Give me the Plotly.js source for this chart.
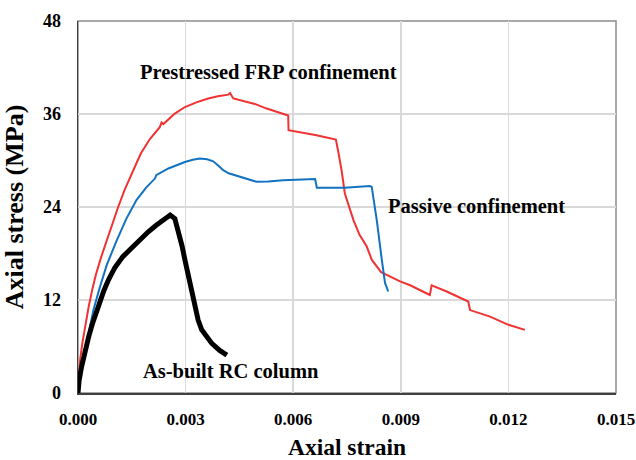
<!DOCTYPE html>
<html>
<head>
<meta charset="utf-8">
<script src="https://cdn.plot.ly/plotly-3.0.1.min.js"></script>
<style>html,body{margin:0;padding:0;background:#fff;}</style>
</head>
<body>
<div id="chart" style="width:636px;height:460px;"></div>
<script>
// Prestressed FRP confinement (red)
const frpStrain = [0, 0.00003, 0.00006, 0.00012, 0.00018, 0.00024, 0.0003, 0.0004, 0.0005, 0.00065, 0.0008, 0.00095, 0.00112, 0.0013, 0.00154, 0.00175, 0.00201, 0.00228, 0.00233, 0.00238, 0.0027, 0.00298, 0.0033, 0.00363, 0.0039, 0.00419, 0.00424, 0.00433, 0.00493, 0.00526, 0.00586, 0.00587, 0.00665, 0.00719, 0.00727, 0.00735, 0.00744, 0.00768, 0.00785, 0.00805, 0.00819, 0.00845, 0.00898, 0.00926, 0.00981, 0.00986, 0.01028, 0.01088, 0.01093, 0.01149, 0.012, 0.01246];
const frpStress = [0, 2.3, 4.3, 6.4, 8.1, 9.6, 11.2, 13.4, 15.3, 17.6, 19.7, 21.9, 24.0, 26.2, 28.8, 30.9, 32.8, 34.3, 34.9, 34.7, 36.05, 36.9, 37.5, 38.0, 38.3, 38.5, 38.7, 38.0, 37.3, 36.7, 35.8, 33.9, 33.25, 32.7, 30.8, 28.7, 25.75, 22.3, 20.4, 18.9, 17.2, 15.6, 14.4, 13.9, 12.65, 13.9, 13.1, 11.8, 10.7, 9.86, 8.8, 8.15];

// Passive confinement (blue)
const passStrain = [0, 0.0001, 0.0002, 0.0003, 0.00043, 0.0006, 0.0008, 0.00108, 0.00135, 0.00163, 0.0019, 0.00215, 0.00218, 0.00252, 0.00275, 0.00298, 0.0032, 0.0034, 0.0036, 0.00377, 0.0039, 0.00405, 0.0042, 0.00438, 0.0047, 0.00498, 0.0053, 0.00572, 0.00661, 0.00666, 0.00743, 0.00814, 0.00819, 0.00833, 0.00847, 0.00856, 0.00865];
const passStress = [0, 3.2, 5.6, 7.9, 10.7, 13.5, 16.5, 19.7, 22.5, 24.9, 26.5, 27.7, 28.1, 28.97, 29.4, 29.8, 30.1, 30.25, 30.15, 29.9, 29.4, 28.75, 28.35, 28.1, 27.6, 27.25, 27.3, 27.46, 27.6, 26.5, 26.5, 26.7, 26.6, 22.3, 17.2, 14.2, 13.1];

// As-built RC column (black)
const rcStrain = [0, 0.00003, 0.0001, 0.0002, 0.0003, 0.0004, 0.0005, 0.0006, 0.00072, 0.00085, 0.00103, 0.00125, 0.0015, 0.00175, 0.00196, 0.00218, 0.00238, 0.00257, 0.0027, 0.0028, 0.0029, 0.00298, 0.00312, 0.00326, 0.00335, 0.00345, 0.0036, 0.00373, 0.00395, 0.00415];
const rcStress = [0, 1.6, 3.4, 5.5, 7.3, 8.9, 10.3, 11.8, 13.2, 14.6, 16.2, 17.6, 18.8, 19.95, 20.8, 21.65, 22.4, 22.96, 22.5, 21.0, 19.0, 17.2, 14.2, 11.15, 9.4, 8.15, 7.1, 6.4, 5.5, 4.9];

const xTicks = [0, 0.003, 0.006, 0.009, 0.012, 0.015];
const yTicks = [0, 12, 24, 36, 48];

const labels = ["Prestressed FRP confinement", "Passive confinement", "As-built RC column"];
const labelX = [0.00531, 0.0111, 0.004274];
const labelY = [41.37, 24.1, 2.78];

const FONT = "Liberation Serif, 'Times New Roman', Times, serif";

const traces = [
  {x: frpStrain, y: frpStress, mode: 'lines', line: {color: '#f03232', width: 2}, name: labels[0]},
  {x: passStrain, y: passStress, mode: 'lines', line: {color: '#1272c2', width: 2}, name: labels[1]},
  {x: rcStrain, y: rcStress, mode: 'lines', line: {color: '#000000', width: 5}, name: labels[2]}
];

const annotations = labels.map((t, i) => ({
  text: t, x: labelX[i], y: labelY[i], xref: 'x', yref: 'y', showarrow: false,
  font: {family: FONT, size: 20.5, color: '#000', weight: 'bold'}
}));

const layout = {
  width: 636, height: 460,
  margin: {l: 78, r: 20, t: 20.5, b: 66.7},
  paper_bgcolor: '#fff', plot_bgcolor: '#fff',
  showlegend: false,
  font: {family: FONT, color: '#000', weight: 'bold'},
  xaxis: {
    range: [0, 0.015], tickvals: xTicks, tickformat: '.3f',
    showgrid: true, gridcolor: '#d9d9d9', gridwidth: 1.5,
    zeroline: false, showline: true, linecolor: '#404040', linewidth: 1.5,
    ticks: '', ticklabelstandoff: 10,
    tickfont: {family: FONT, size: 17, color: '#000', weight: 'bold'},
    title: {text: 'Axial strain', standoff: 14, font: {family: FONT, size: 23.5, color: '#000', weight: 'bold'}}
  },
  yaxis: {
    range: [0, 48], tickvals: yTicks,
    showgrid: true, gridcolor: '#d9d9d9', gridwidth: 1.5,
    zeroline: false, showline: true, linecolor: '#404040', linewidth: 1.5,
    ticks: '', ticklabelstandoff: 12,
    tickfont: {family: FONT, size: 18, color: '#000', weight: 'bold'},
    title: {text: 'Axial stress (MPa)', standoff: 12, font: {family: FONT, size: 26, color: '#000', weight: 'bold'}}
  },
  shapes: [{type: 'rect', xref: 'paper', yref: 'paper', x0: 0, x1: 1, y0: 0, y1: 1, line: {color: '#8c8c8c', width: 1.5}, layer: 'below'}],
  annotations: annotations
};

Plotly.newPlot('chart', traces, layout, {displayModeBar: false, staticPlot: true});
</script>
</body>
</html>
